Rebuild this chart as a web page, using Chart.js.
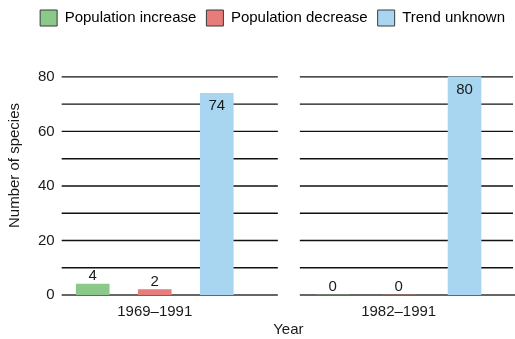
<!DOCTYPE html>
<html>
<head>
<meta charset="utf-8">
<script src="https://cdn.jsdelivr.net/npm/chart.js@4/dist/chart.umd.min.js"></script>
<style>
  html, body { margin: 0; padding: 0; background: #ffffff; }
  #wrap { position: relative; width: 515px; height: 339px; }
</style>
</head>
<body>
<div id="wrap"><canvas id="chart"></canvas></div>
<script>
// Species counts by population trend, for two survey periods
const trends = ['Population increase', 'Population decrease', 'Trend unknown'];
const periods = ['1969–1991', '1982–1991'];
const counts1969 = [4, 2, 74];
const counts1982 = [0, 0, 80];
const yTickLabels = [0, 20, 40, 60, 80];
const trendColors = ['#8bc98a', '#e87c7a', '#a8d6f0'];

const TEXT = '#1a1a1a';
const FAMILY = '"Liberation Sans", Arial, sans-serif';
const FONT = { family: FAMILY, size: 15, lineHeight: 1.2 };
Chart.defaults.font.family = FAMILY;
Chart.defaults.font.size = 15;
Chart.defaults.color = TEXT;

// Horizontal rules, drawn separately for each period panel
const panelGrid = {
  id: 'panelGrid',
  beforeDatasetsDraw(chart) {
    const { ctx, chartArea, scales } = chart;
    const y = scales.y;
    const panels = [
      [chartArea.left, scales.xGap1.right],
      [scales.xR.left, chartArea.right]
    ];
    ctx.save();
    y.ticks.forEach(t => {
      if (t.value % 10 !== 0) return;
      const py = y.getPixelForValue(t.value);
      ctx.strokeStyle = t.value === 0 ? '#333333' : '#111111';
      ctx.lineWidth = 1.4;
      panels.forEach(([x0, x1], k) => {
        ctx.beginPath();
        ctx.moveTo(x0, py);
        ctx.lineTo(k === 1 && t.value !== 0 ? x1 - 2 : x1, py);
        ctx.stroke();
      });
    });
    ctx.restore();
  }
};

// Count written on each bar: inside the top of tall bars, above short ones
const barValues = {
  id: 'barValues',
  afterDatasetsDraw(chart) {
    const { ctx } = chart;
    ctx.save();
    ctx.font = '15px ' + FAMILY;
    ctx.fillStyle = TEXT;
    ctx.textAlign = 'center';
    chart.data.datasets.forEach((ds, i) => {
      chart.getDatasetMeta(i).data.forEach((bar, j) => {
        const v = ds.data[j];
        if (v >= 50) {
          ctx.textBaseline = 'middle';
          ctx.fillText(String(v), bar.x, bar.y + 13);
        } else {
          ctx.textBaseline = 'alphabetic';
          ctx.fillText(String(v), bar.x, bar.y - 4);
        }
      });
    });
    ctx.restore();
  }
};

const periodAxis = (title, weight) => ({
  type: 'category',
  position: 'bottom',
  stack: 'panels',
  stackWeight: weight,
  offset: true,
  grid: { display: false, drawTicks: false },
  border: { display: false },
  ticks: { display: false },
  title: { display: true, text: title, color: TEXT, font: FONT, padding: { top: 8, bottom: 0 } }
});
const spacerAxis = (weight) => ({
  type: 'linear',
  position: 'bottom',
  axis: 'x',
  display: false,
  stack: 'panels',
  stackWeight: weight
});

new Chart(document.getElementById('chart'), {
  type: 'bar',
  data: {
    labels: trends,
    datasets: [
      { label: periods[0], data: counts1969, xAxisID: 'xL', yAxisID: 'y',
        backgroundColor: trendColors, barThickness: 33, grouped: false },
      { label: periods[1], data: counts1982, xAxisID: 'xR', yAxisID: 'y',
        backgroundColor: trendColors, barThickness: 33, grouped: false }
    ]
  },
  options: {
    responsive: true,
    maintainAspectRatio: false,
    animation: false,
    layout: { padding: 0 },
    scales: {
      xL: periodAxis(periods[0], 186),
      xGap1: spacerAxis(30),
      xGap2: spacerAxis(22),
      xR: periodAxis(periods[1], 197.5),
      xTail: spacerAxis(17.5),
      y: {
        type: 'linear',
        position: 'left',
        min: 0,
        max: 95,
        grid: { display: false, drawTicks: false },
        border: { display: false },
        ticks: {
          stepSize: 10,
          padding: 7,
          color: TEXT,
          font: FONT,
          callback: v => (yTickLabels.includes(v) ? String(v) : '')
        },
        title: { display: true, text: 'Number of species', color: TEXT, font: FONT,
                 padding: { top: 6, bottom: 7 } }
      }
    },
    plugins: {
      legend: {
        position: 'top',
        align: 'end',
        labels: {
          boxWidth: 17,
          boxHeight: 16,
          padding: 10,
          color: TEXT,
          font: FONT,
          generateLabels: () => trends.map((t, i) => ({
            text: t,
            fillStyle: trendColors[i],
            strokeStyle: '#3a3a3a',
            lineWidth: 1,
            hidden: false,
            index: i
          }))
        }
      },
      title: {
        display: true,
        position: 'bottom',
        fullSize: false,
        text: 'Year',
        color: TEXT,
        font: { family: FAMILY, size: 15, lineHeight: 1.2, weight: 'normal' },
        padding: 0
      },
      tooltip: { enabled: false }
    }
  },
  plugins: [panelGrid, barValues]
});
</script>
</body>
</html>
